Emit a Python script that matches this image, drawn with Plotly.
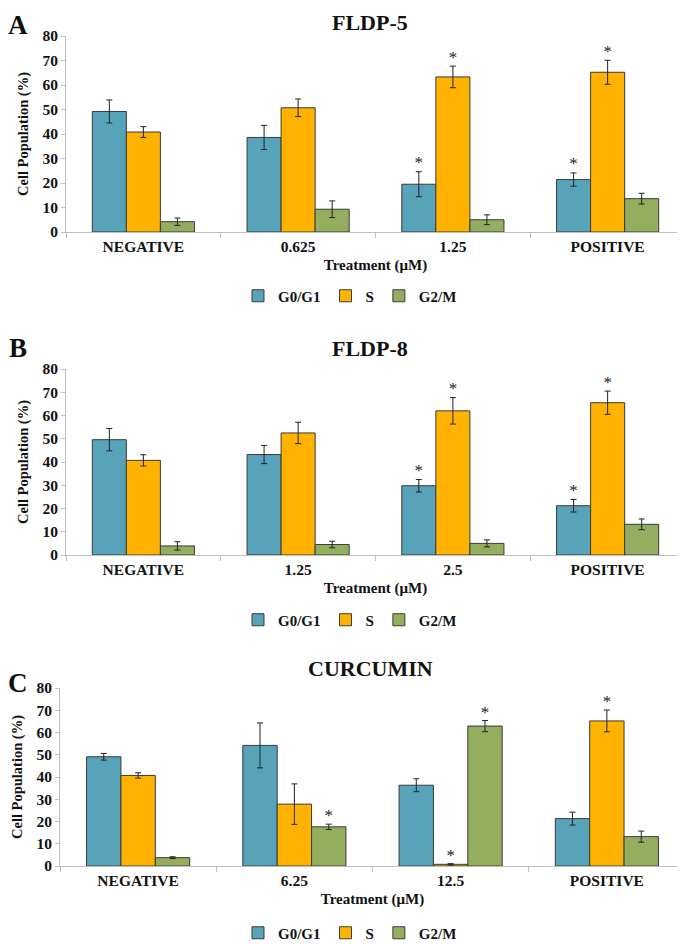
"""Cell cycle distribution panels (A: FLDP-5, B: FLDP-8, C: CURCUMIN)."""

import plotly.graph_objects as go

SERIES = ["G0/G1", "S", "G2/M"]
COLORS = ["#57A3BA", "#FFB300", "#93AE5E"]

# panel A
A_TITLE = "FLDP-5"
A_CATS = ["NEGATIVE", "0.625", "1.25", "POSITIVE"]
A_G1 = [49.2, 38.6, 19.5, 21.4]
A_G1_ERR = [4.7, 4.9, 5.1, 2.7]
A_S = [40.8, 50.7, 63.3, 65.2]
A_S_ERR = [2.2, 3.6, 4.4, 4.9]
A_G2 = [4.2, 9.3, 5.0, 13.6]
A_G2_ERR = [1.5, 3.4, 2.0, 2.2]
A_STARS_G1 = [False, False, True, True]
A_STARS_S = [False, False, True, True]
A_STARS_G2 = [False, False, False, False]

# panel B
B_TITLE = "FLDP-8"
B_CATS = ["NEGATIVE", "1.25", "2.5", "POSITIVE"]
B_G1 = [49.6, 43.2, 29.8, 21.2]
B_G1_ERR = [4.8, 3.9, 2.7, 2.7]
B_S = [40.7, 52.5, 62.0, 65.5]
B_S_ERR = [2.4, 4.6, 5.7, 5.0]
B_G2 = [3.9, 4.5, 5.0, 13.2]
B_G2_ERR = [1.8, 1.4, 1.5, 2.3]
B_STARS_G1 = [False, False, True, True]
B_STARS_S = [False, False, True, True]
B_STARS_G2 = [False, False, False, False]

# panel C
C_TITLE = "CURCUMIN"
C_CATS = ["NEGATIVE", "6.25", "12.5", "POSITIVE"]
C_G1 = [49.1, 54.2, 36.3, 21.3]
C_G1_ERR = [1.5, 10.1, 2.9, 2.9]
C_S = [40.7, 27.8, 0.75, 65.2]
C_S_ERR = [1.2, 9.1, 0.3, 4.9]
C_G2 = [3.75, 17.6, 62.9, 13.2]
C_G2_ERR = [0.4, 1.2, 2.5, 2.5]
C_STARS_G1 = [False, False, False, False]
C_STARS_S = [False, False, True, True]
C_STARS_G2 = [False, True, True, False]

FONT = "Liberation Serif"

PANELS = [
    ("A", A_TITLE, A_CATS, [A_G1, A_S, A_G2], [A_G1_ERR, A_S_ERR, A_G2_ERR],
     [A_STARS_G1, A_STARS_S, A_STARS_G2]),
    ("B", B_TITLE, B_CATS, [B_G1, B_S, B_G2], [B_G1_ERR, B_S_ERR, B_G2_ERR],
     [B_STARS_G1, B_STARS_S, B_STARS_G2]),
    ("C", C_TITLE, C_CATS, [C_G1, C_S, C_G2], [C_G1_ERR, C_S_ERR, C_G2_ERR],
     [C_STARS_G1, C_STARS_S, C_STARS_G2]),
]

# the page body adds an 8px margin, so the figure is drawn that much smaller
OFF = 8
W, H = 685 - OFF, 944 - OFF
# page-pixel layout of each panel: (plot top, plot bottom, plot left)
BOXES = [(36, 232, 66), (369, 555, 66), (688, 866, 60)]
LEGEND_Y = [296, 620, 933]
# (y, anchor) of title and panel letter; the top panel hangs from the figure edge
TITLE_POS = [(8, "top"), (348, "middle"), (668, "middle")]
LETTER_POS = [(8, "top"), (348, "middle"), (683, "middle")]


def px(pix):
    return (pix - OFF) / W


def py(pix):
    return 1 - (pix - OFF) / H


fig = go.Figure()
layout = dict(
    width=W, height=H, margin=dict(l=0, r=0, t=0, b=0, autoexpand=False),
    paper_bgcolor="white", plot_bgcolor="white",
    barmode="group", bargap=0.34, bargroupgap=0,
    scattermode="group", scattergap=0.34,
    font=dict(family=FONT, color="#111", size=14),
    showlegend=True,
)
annotations = []

for p, (letter, title, cats, vals, errs, stars) in enumerate(PANELS):
    top, bottom, left = BOXES[p]
    n = p + 1
    xa = "x" if n == 1 else f"x{n}"
    ya = "y" if n == 1 else f"y{n}"
    leg = "legend" if n == 1 else f"legend{n}"

    for i, name in enumerate(SERIES):
        fig.add_trace(go.Bar(
            x=cats, y=vals[i], name=f"<b>{name}</b>", xaxis=xa, yaxis=ya, legend=leg,
            offsetgroup=str(i),
            marker=dict(color=COLORS[i], line=dict(color="#3a3a3a", width=1)),
            error_y=dict(type="data", array=errs[i], color="#222", thickness=1, width=3),
        ))
    for i, name in enumerate(SERIES):
        sy = [v + e + 3.2 if s else None for v, e, s in zip(vals[i], errs[i], stars[i])]
        fig.add_trace(go.Scatter(
            x=cats, y=sy, mode="text", text=["*"] * len(cats), xaxis=xa, yaxis=ya,
            offsetgroup=str(i), showlegend=False, hoverinfo="skip",
            textfont=dict(family=FONT, size=17, color="#222"),
        ))

    layout[f"xaxis{'' if n == 1 else n}"] = dict(
        domain=[px(left), 1.0], anchor=ya, type="category",
        showline=True, linecolor="#BFBFBF", linewidth=1,
        ticks="outside", tickson="boundaries", ticklen=5, tickcolor="#BFBFBF",
        showgrid=False, tickfont=dict(family=FONT, size=15.5, color="#111"),
        tickprefix="<b>", ticksuffix="</b>",
        title=dict(text="<b>Treatment (μM)</b>",
                   font=dict(family=FONT, size=15, color="#111"), standoff=5),
    )
    layout[f"yaxis{'' if n == 1 else n}"] = dict(
        domain=[py(bottom), py(top)], anchor=xa, range=[0, 80], dtick=10,
        showline=True, linecolor="#BFBFBF", linewidth=1,
        ticks="outside", ticklen=4, tickcolor="#BFBFBF", showgrid=False, zeroline=False,
        tickfont=dict(family=FONT, size=15.5, color="#111"),
        tickprefix="<b>", ticksuffix="</b>",
        title=dict(text="<b>Cell Population (%)</b>",
                   font=dict(family=FONT, size=14.5, color="#111"), standoff=10),
    )
    layout[leg] = dict(
        orientation="h", x=px(350), xanchor="center", y=py(LEGEND_Y[p]), yanchor="middle",
        font=dict(family=FONT, size=15, color="#111"), itemwidth=30,
        tracegroupgap=0, bgcolor="rgba(0,0,0,0)",
    )
    ty, tanchor = TITLE_POS[p]
    ly, lanchor = LETTER_POS[p]
    annotations.append(dict(
        text=f"<b>{title}</b>", x=px(370), y=py(ty), xref="paper", yref="paper",
        xanchor="center", yanchor=tanchor, showarrow=False,
        font=dict(family=FONT, size=22, color="#111"),
    ))
    annotations.append(dict(
        text=f"<b>{letter}</b>", x=px(18), y=py(ly), xref="paper", yref="paper",
        xanchor="center", yanchor=lanchor, showarrow=False,
        font=dict(family=FONT, size=27, color="#111"),
    ))

layout["annotations"] = annotations
fig.update_layout(**layout)
fig.write_html("out.html")
